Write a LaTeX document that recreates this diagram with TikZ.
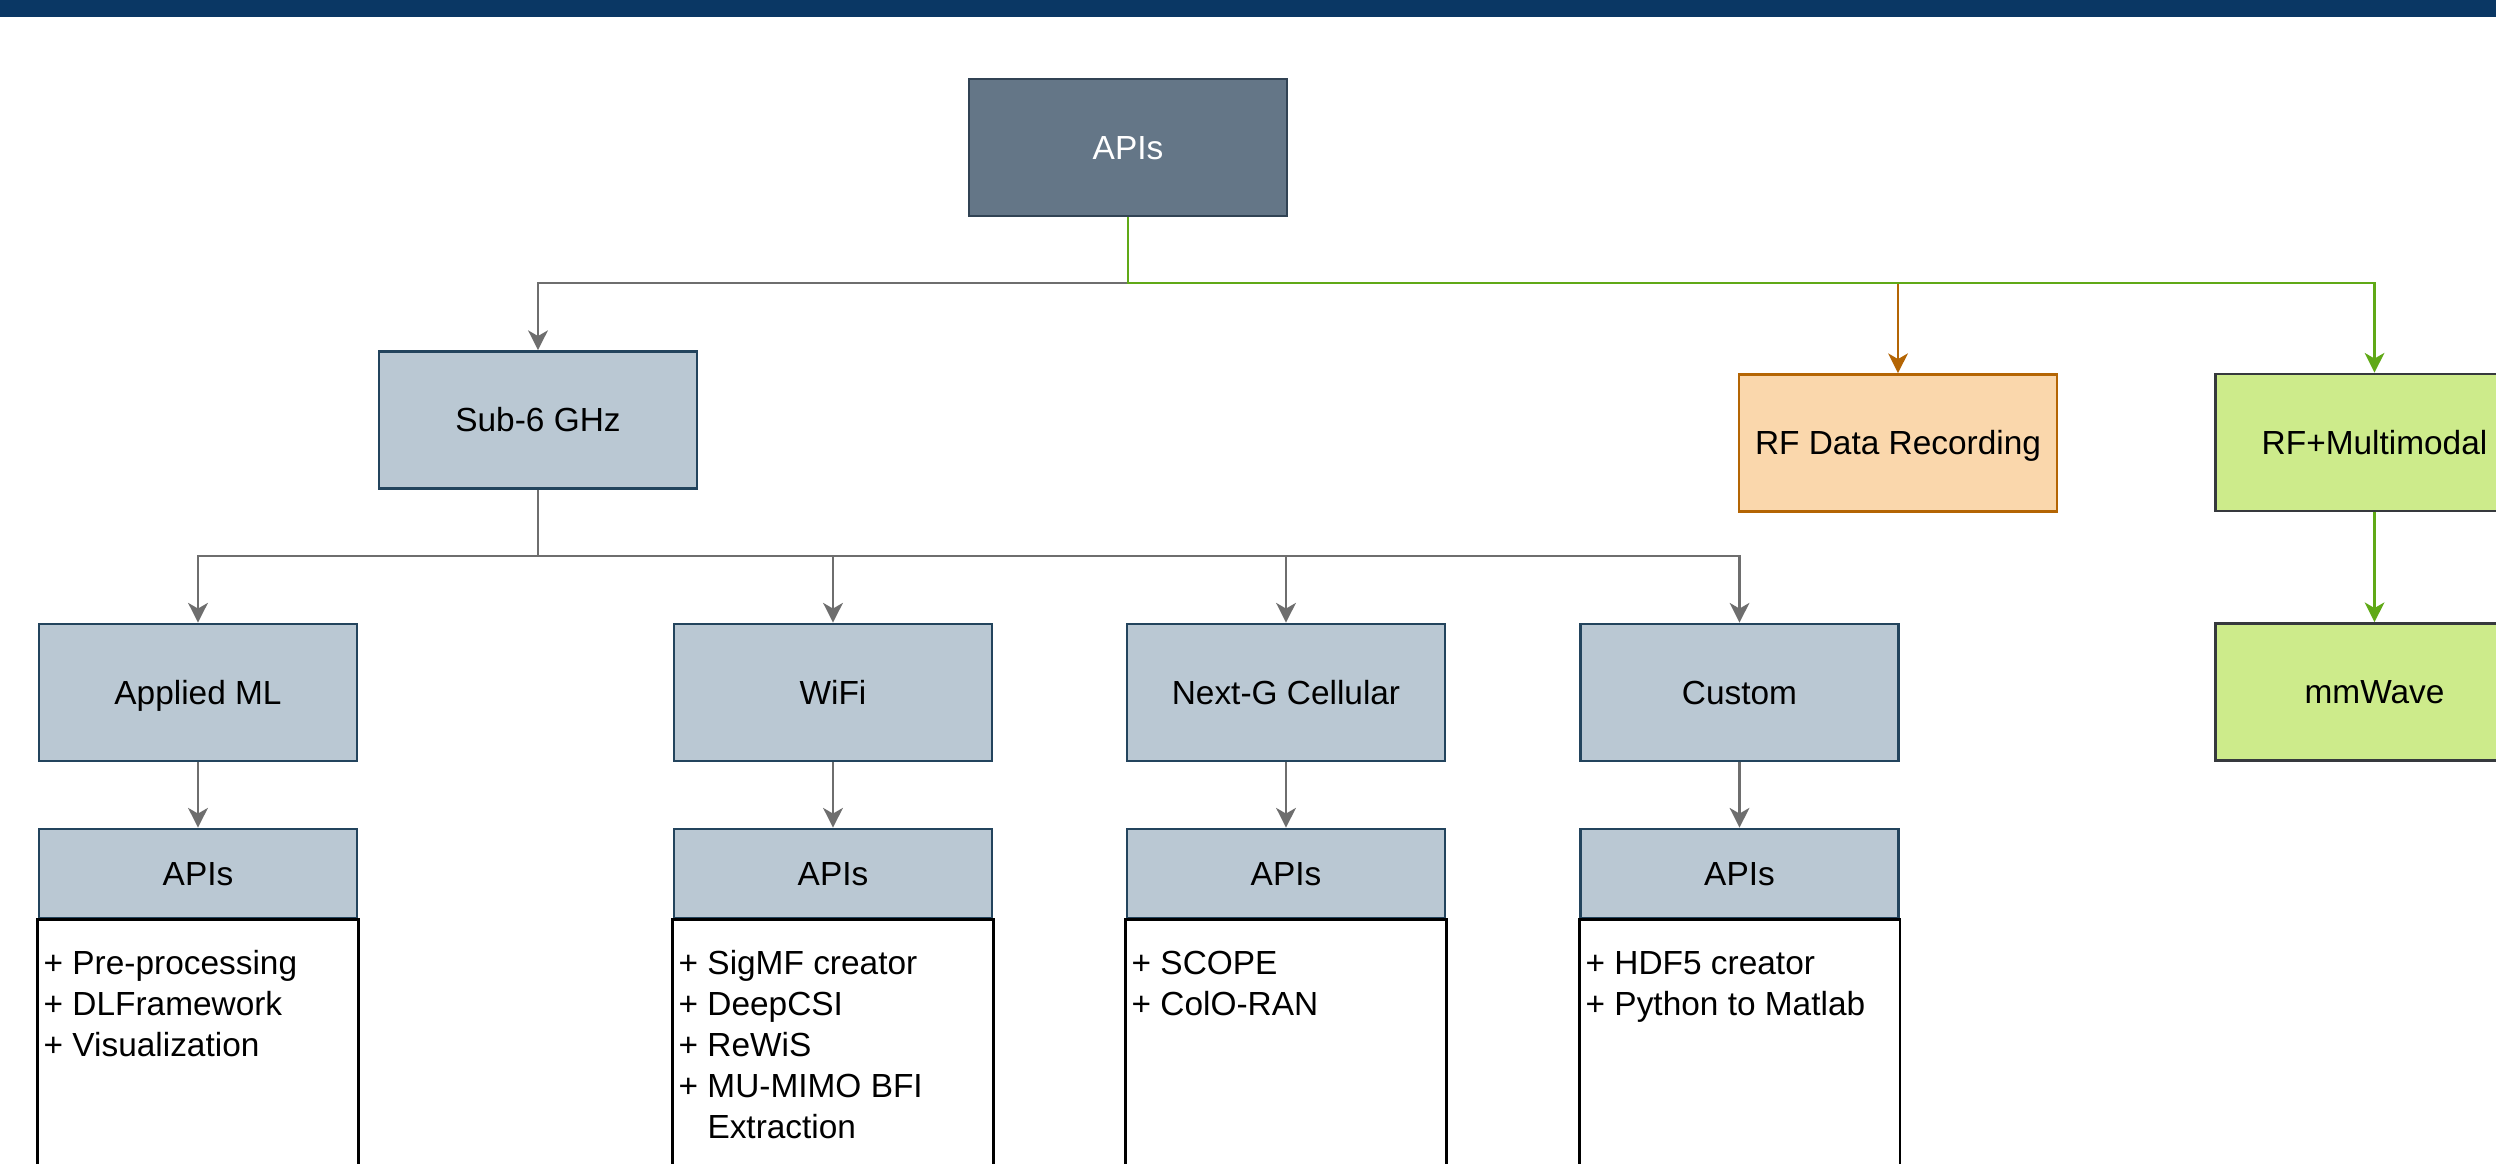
\documentclass[tikz,border=0pt]{standalone}
\usepackage{fontspec}
\setmainfont{Liberation Sans}
\usetikzlibrary{arrows.meta}

\definecolor{barblue}{HTML}{0A3764}
\definecolor{topfill}{HTML}{647687}
\definecolor{topline}{HTML}{314354}
\definecolor{bluefill}{HTML}{BAC8D3}
\definecolor{blueline}{HTML}{23445D}
\definecolor{orfill}{HTML}{FAD7AC}
\definecolor{orline}{HTML}{B46504}
\definecolor{grfill}{HTML}{CDEB8B}
\definecolor{grline}{HTML}{36393D}
\definecolor{grarrow}{HTML}{60A917}
\definecolor{grayarrow}{HTML}{6E6E6E}

\tikzset{
  lbl/.style={font=\fontsize{9.5pt}{11.7pt}\selectfont, text height=6.8pt, text depth=0pt},
  box/.style={lbl, draw, line width=0.75pt, minimum width=3.18cm, minimum height=1.37cm, inner sep=0pt},
  topbox/.style={box, fill=topfill, draw=topline, text=white},
  bluebox/.style={box, fill=bluefill, draw=blueline},
  orbox/.style={box, fill=orfill, draw=orline},
  grbox/.style={box, fill=grfill, draw=grline},
  hdrbox/.style={bluebox, minimum height=0.89cm},
  listbody/.style={draw=black, fill=white, line width=0.8pt},
  listtxt/.style={font=\fontsize{9.5pt}{11.7pt}\selectfont, anchor=base west, inner sep=0pt},
  conn/.style={line width=0.7pt, -{Stealth[length=5.6pt,width=5.6pt,inset=1.6pt]}},
  grayconn/.style={conn, draw=grayarrow},
  orconn/.style={conn, draw=orline},
  grconn/.style={conn, draw=grarrow},
}

\newcommand{\listlines}[1]{\vtop{\baselineskip=11.7pt #1}}

\begin{document}
\begin{tikzpicture}[x=0.01cm, y=-0.01cm]
  \useasboundingbox (0,0) rectangle (2496,1164);
  \clip (0,0) rectangle (2496,1164);
  \fill[white] (0,0) rectangle (2496,1164);

  % header band
  \fill[barblue] (0,0) rectangle (2496,17);

  % tree nodes
  \node[topbox]  (top)    at (1128,147.5) {APIs};
  \node[bluebox] (sub6)   at (538,420)    {Sub-6 GHz};
  \node[orbox]   (rfdata) at (1898,443)   {RF Data Recording};
  \node[grbox]   (rfmm)   at (2374.5,442.5) {RF+Multimodal};
  \node[grbox]   (mmw)    at (2374.5,692)   {mmWave};

  \node[bluebox] (appml)  at (198,692.5)    {Applied ML};
  \node[bluebox] (wifi)   at (833,692.5)    {WiFi};
  \node[bluebox] (nextg)  at (1286,692.5)   {Next-G Cellular};
  \node[bluebox] (custom) at (1739.5,692.5) {Custom};

  % API list headers
  \node[hdrbox] (h1) at (198,873.5)    {APIs};
  \node[hdrbox] (h2) at (833,873.5)    {APIs};
  \node[hdrbox] (h3) at (1286,873.5)   {APIs};
  \node[hdrbox] (h4) at (1739.5,873.5) {APIs};

  % API list bodies
  \draw[listbody] (h1.south west) rectangle ([yshift=-3cm]h1.south east);
  \draw[listbody] (h2.south west) rectangle ([yshift=-3cm]h2.south east);
  \draw[listbody] (h3.south west) rectangle ([yshift=-3cm]h3.south east);
  \draw[listbody] (h4.south west) rectangle ([yshift=-3cm]h4.south east);

  \node[listtxt] (t1) at (43,974) {\listlines{\hbox{+ Pre-processing}\hbox{+ DLFramework}\hbox{+ Visualization}}};
  \node[listtxt] (t2) at (678,974) {\listlines{\hbox{+ SigMF creator}\hbox{+ DeepCSI}\hbox{+ ReWiS}\hbox{+ MU-MIMO BFI}\hbox{\phantom{+} Extraction}}};
  \node[listtxt] (t3) at (1131,974) {\listlines{\hbox{+ SCOPE}\hbox{+ ColO-RAN}}};
  \node[listtxt] (t4) at (1585,974) {\listlines{\hbox{+ HDF5 creator}\hbox{+ Python to Matlab}}};

  % junction points
  \coordinate (j1) at (1128,283);
  \coordinate (j2) at (538,556);

  % first level connectors
  \draw[grayconn] (top.south) -- (j1) -| (sub6.north);
  \draw[orconn]   (j1) -| (rfdata.north);
  \draw[grconn]   (top.south) -- (j1) -| (rfmm.north);
  \draw[grconn]   (rfmm.south) -- (mmw.north);

  % second level connectors
  \draw[grayconn] (sub6.south) -- (j2) -| (appml.north);
  \draw[grayconn] (j2) -| (wifi.north);
  \draw[grayconn] (j2) -| (nextg.north);
  \draw[grayconn] (j2) -| (custom.north);

  % to API lists
  \draw[grayconn] (appml.south)  -- (h1.north);
  \draw[grayconn] (wifi.south)   -- (h2.north);
  \draw[grayconn] (nextg.south)  -- (h3.north);
  \draw[grayconn] (custom.south) -- (h4.north);
\end{tikzpicture}
\end{document}
